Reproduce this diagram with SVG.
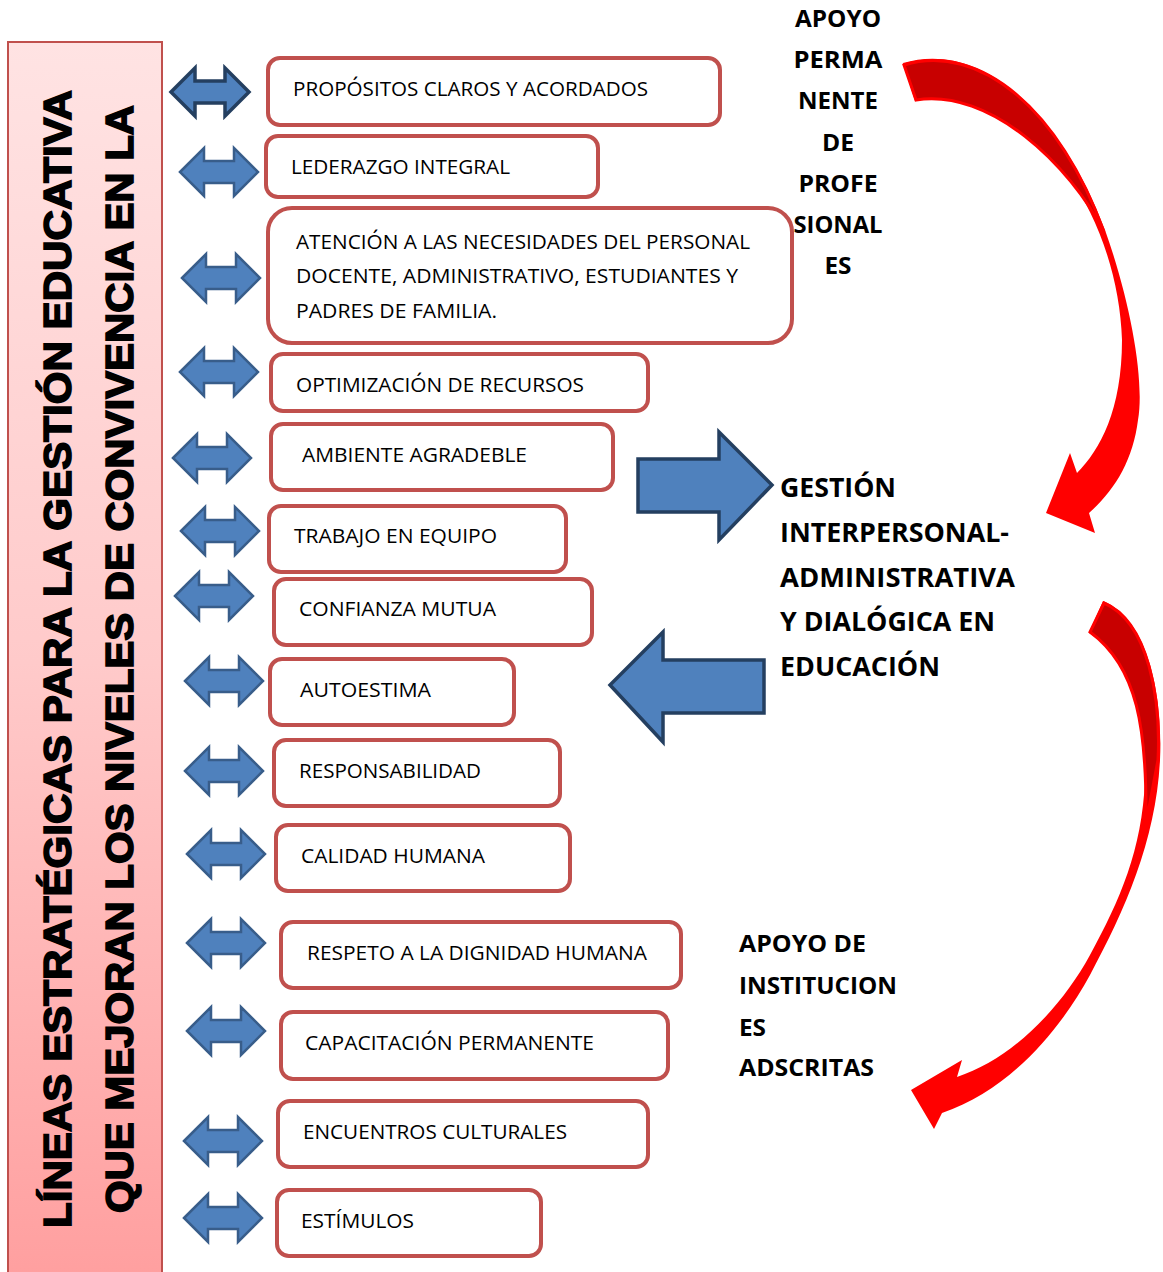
<svg xmlns="http://www.w3.org/2000/svg" xmlns:xlink="http://www.w3.org/1999/xlink" width="1163" height="1272" viewBox="0 0 1163 1272">
<defs>
<linearGradient id="pink" x1="0" y1="0" x2="0" y2="1">
<stop offset="0" stop-color="#FFE3E3"/>
<stop offset="0.5" stop-color="#FFCACA"/>
<stop offset="1" stop-color="#FF9F9F"/>
</linearGradient>
<path id="dbl" d="M -39 0 L -15 -24 L -15 -11 L 15 -11 L 15 -24 L 39 0 L 15 24 L 15 11 L -15 11 L -15 24 Z"/>
<style>
.box{fill:#FFFFFF;stroke:#C0504D;stroke-width:4}
.bt{font-family:"Open Sans","Liberation Sans",sans-serif;font-size:20.5px;fill:#000}
.side{font-family:"Open Sans","Liberation Sans",sans-serif;font-size:24px;font-weight:bold;fill:#000}
.main{font-family:"Open Sans","Liberation Sans",sans-serif;font-size:26px;font-weight:bold;fill:#000}
.ban{font-family:"Liberation Sans","Arial",sans-serif;font-size:39px;font-weight:bold;fill:#000;stroke:#000;stroke-width:1.6}
.da{fill:#4F81BD;stroke:#385D8A;stroke-width:2.5}
.da1{fill:#4F81BD;stroke:#243F60;stroke-width:3.5}
.blk{fill:#4F81BD;stroke:#243F60;stroke-width:3.5;stroke-linejoin:miter}
.red{fill:#FF0000}
.dark{fill:#C80000;stroke:#FF0000;stroke-width:3}
</style>
</defs>
<rect width="1163" height="1272" fill="#FFFFFF"/>

<g id="banner">
<rect x="8" y="42" width="154" height="1240" fill="url(#pink)" stroke="#C0504D" stroke-width="2"/>
<text class="ban" x="71" y="1228" transform="rotate(-90 71 1228)" textLength="1138" lengthAdjust="spacingAndGlyphs">LÍNEAS ESTRATÉGICAS PARA LA GESTIÓN EDUCATIVA</text>
<text class="ban" x="133" y="1213" transform="rotate(-90 133 1213)" textLength="1108" lengthAdjust="spacingAndGlyphs">QUE MEJORAN LOS NIVELES DE CONVIVENCIA EN LA</text>
</g>

<g id="connectors">
<use xlink:href="#dbl" class="da1" transform="translate(210 92)"/>
<use xlink:href="#dbl" class="da" transform="translate(219 172)"/>
<use xlink:href="#dbl" class="da" transform="translate(221 278)"/>
<use xlink:href="#dbl" class="da" transform="translate(219 372)"/>
<use xlink:href="#dbl" class="da" transform="translate(212 458)"/>
<use xlink:href="#dbl" class="da" transform="translate(220 531)"/>
<use xlink:href="#dbl" class="da" transform="translate(214 596)"/>
<use xlink:href="#dbl" class="da" transform="translate(224 681)"/>
<use xlink:href="#dbl" class="da" transform="translate(224 771)"/>
<use xlink:href="#dbl" class="da" transform="translate(226 854)"/>
<use xlink:href="#dbl" class="da" transform="translate(226 943)"/>
<use xlink:href="#dbl" class="da" transform="translate(226 1031)"/>
<use xlink:href="#dbl" class="da" transform="translate(223 1141)"/>
<use xlink:href="#dbl" class="da" transform="translate(223 1218)"/>
<path class="blk" d="M638 459 L719 459 L719 432 L772 485 L719 540 L719 512 L638 512 Z"/>
<path class="blk" d="M764 660 L663 660 L663 632 L610 685 L663 742 L663 713 L764 713 Z"/>
<g id="curve-top">
<path class="red" d="M903 63 C 980 40 1060 110 1105 230 C 1130 300 1145 380 1138 420 C 1133 460 1115 490 1089 513 L1095 533 L1046 513 L1070 453 L1077 473 C 1100 450 1122 410 1122 340 C 1120 280 1100 220 1067 173 C 1030 120 970 85 915 101 Z"/>
<path class="dark" d="M904 65 C 980 42 1060 110 1104 232 C 1070 165 990 88 916 100 Z"/>
</g>
<g id="curve-bottom">
<path class="red" d="M1103 601 C 1150 620 1163 700 1160 760 C 1156 840 1125 910 1090 975 C 1060 1030 1010 1090 942 1113 L934 1129 L911 1090 L962 1060 L957 1077 C 1010 1060 1060 1010 1090 955 C 1120 900 1142 850 1145 780 C 1147 720 1135 660 1089 633 Z"/>
<path class="dark" d="M1104 603 C 1149 622 1161 700 1158 760 L1146 823 C 1147 730 1138 667 1090 632 Z"/>
</g>
</g>

<g id="n1"><rect class="box" x="268" y="58" width="452" height="67" rx="12"/><text class="bt" x="293" y="96" textLength="355" lengthAdjust="spacingAndGlyphs">PROPÓSITOS CLAROS Y ACORDADOS</text></g>
<g id="n2"><rect class="box" x="266" y="136" width="332" height="61" rx="12"/><text class="bt" x="291" y="174" textLength="219" lengthAdjust="spacingAndGlyphs">LEDERAZGO INTEGRAL</text></g>
<g id="n3"><rect class="box" x="268" y="208" width="524" height="135" rx="24"/>
<text class="bt" x="296" y="249" textLength="454" lengthAdjust="spacingAndGlyphs">ATENCIÓN A LAS NECESIDADES DEL PERSONAL</text>
<text class="bt" x="296" y="283" textLength="442" lengthAdjust="spacingAndGlyphs">DOCENTE, ADMINISTRATIVO, ESTUDIANTES Y</text>
<text class="bt" x="296" y="318" textLength="201" lengthAdjust="spacingAndGlyphs">PADRES DE FAMILIA.</text></g>
<g id="n4"><rect class="box" x="271" y="354" width="377" height="57" rx="12"/><text class="bt" x="296" y="392" textLength="288" lengthAdjust="spacingAndGlyphs">OPTIMIZACIÓN DE RECURSOS</text></g>
<g id="n5"><rect class="box" x="271" y="424" width="342" height="66" rx="12"/><text class="bt" x="302" y="462" textLength="225" lengthAdjust="spacingAndGlyphs">AMBIENTE AGRADEBLE</text></g>
<g id="n6"><rect class="box" x="269" y="506" width="297" height="66" rx="12"/><text class="bt" x="294" y="543" textLength="203" lengthAdjust="spacingAndGlyphs">TRABAJO EN EQUIPO</text></g>
<g id="n7"><rect class="box" x="274" y="579" width="318" height="66" rx="12"/><text class="bt" x="299" y="616" textLength="197" lengthAdjust="spacingAndGlyphs">CONFIANZA MUTUA</text></g>
<g id="n8"><rect class="box" x="270" y="659" width="244" height="66" rx="12"/><text class="bt" x="300" y="697" textLength="131" lengthAdjust="spacingAndGlyphs">AUTOESTIMA</text></g>
<g id="n9"><rect class="box" x="274" y="740" width="286" height="66" rx="12"/><text class="bt" x="299" y="778" textLength="182" lengthAdjust="spacingAndGlyphs">RESPONSABILIDAD</text></g>
<g id="n10"><rect class="box" x="276" y="825" width="294" height="66" rx="12"/><text class="bt" x="301" y="863" textLength="184" lengthAdjust="spacingAndGlyphs">CALIDAD HUMANA</text></g>
<g id="n11"><rect class="box" x="281" y="922" width="400" height="66" rx="12"/><text class="bt" x="307" y="960" textLength="340" lengthAdjust="spacingAndGlyphs">RESPETO A LA DIGNIDAD HUMANA</text></g>
<g id="n12"><rect class="box" x="281" y="1012" width="387" height="67" rx="12"/><text class="bt" x="305" y="1050" textLength="289" lengthAdjust="spacingAndGlyphs">CAPACITACIÓN PERMANENTE</text></g>
<g id="n13"><rect class="box" x="278" y="1101" width="370" height="66" rx="12"/><text class="bt" x="303" y="1139" textLength="264" lengthAdjust="spacingAndGlyphs">ENCUENTROS CULTURALES</text></g>
<g id="n14"><rect class="box" x="277" y="1190" width="264" height="66" rx="12"/><text class="bt" x="301" y="1228" textLength="113" lengthAdjust="spacingAndGlyphs">ESTÍMULOS</text></g>

<g id="apoyo-prof">
<text class="side" x="838" y="27" text-anchor="middle" textLength="86" lengthAdjust="spacingAndGlyphs">APOYO</text>
<text class="side" x="838" y="68" text-anchor="middle" textLength="89" lengthAdjust="spacingAndGlyphs">PERMA</text>
<text class="side" x="838" y="109" text-anchor="middle" textLength="80" lengthAdjust="spacingAndGlyphs">NENTE</text>
<text class="side" x="838" y="151" text-anchor="middle" textLength="32" lengthAdjust="spacingAndGlyphs">DE</text>
<text class="side" x="838" y="192" text-anchor="middle" textLength="79" lengthAdjust="spacingAndGlyphs">PROFE</text>
<text class="side" x="838" y="233" text-anchor="middle" textLength="89" lengthAdjust="spacingAndGlyphs">SIONAL</text>
<text class="side" x="838" y="274" text-anchor="middle" textLength="27" lengthAdjust="spacingAndGlyphs">ES</text>
</g>

<g id="gestion">
<text class="main" x="780" y="497" textLength="116" lengthAdjust="spacingAndGlyphs">GESTIÓN</text>
<text class="main" x="780" y="542" textLength="229" lengthAdjust="spacingAndGlyphs">INTERPERSONAL-</text>
<text class="main" x="780" y="587" textLength="235" lengthAdjust="spacingAndGlyphs">ADMINISTRATIVA</text>
<text class="main" x="780" y="631" textLength="215" lengthAdjust="spacingAndGlyphs">Y DIALÓGICA EN</text>
<text class="main" x="780" y="676" textLength="160" lengthAdjust="spacingAndGlyphs">EDUCACIÓN</text>
</g>

<g id="apoyo-inst">
<text class="side" x="739" y="952" textLength="127" lengthAdjust="spacingAndGlyphs">APOYO DE</text>
<text class="side" x="739" y="994" textLength="158" lengthAdjust="spacingAndGlyphs">INSTITUCION</text>
<text class="side" x="739" y="1036" textLength="27" lengthAdjust="spacingAndGlyphs">ES</text>
<text class="side" x="739" y="1076" textLength="135" lengthAdjust="spacingAndGlyphs">ADSCRITAS</text>
</g>
</svg>
